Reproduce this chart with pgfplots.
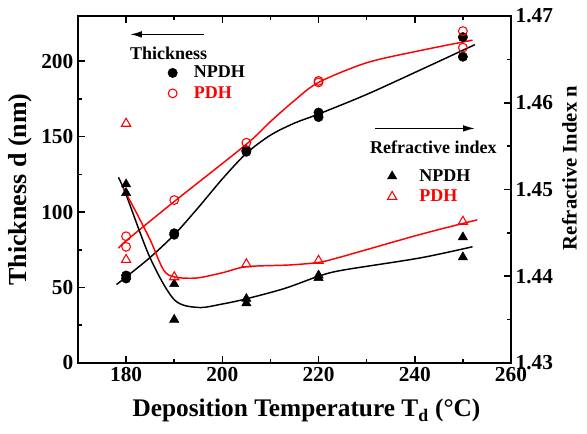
\documentclass[border=0pt]{standalone}
\usepackage{fontspec}
\setmainfont{Liberation Serif}
\usepackage{pgfplots}
\pgfplotsset{compat=1.18}
\usetikzlibrary{arrows.meta}
\definecolor{pdhred}{RGB}{255,0,0}

\pgfplotsset{
  common/.style={
    width=324.75pt, height=260.25pt, scale only axis,
    xmin=170, xmax=260,
    axis line style={line width=1.5pt},
    every tick/.style={black, line width=1.2pt},
    major tick length=5pt, minor tick length=3pt,
    tick label style={font=\fontsize{16}{18}\selectfont\bfseries},
    /pgf/number format/assume math mode=true,
    label style={font=\fontsize{19.5}{22}\selectfont\bfseries},
    legend style={draw=none, fill=none, font=\fontsize{13.5}{15}\selectfont\bfseries,
      legend cell align=left, row sep=1pt},
  },
  fitline/.style={smooth, line width=1.1pt, no marks},
}

\begin{document}
\begin{tikzpicture}
\begin{axis}[common, name=ax,
  ymin=0, ymax=230,
  xtick={180,200,...,260}, minor x tick num=1, xtick pos=both,
  ytick={0,50,...,200}, minor y tick num=1, ytick pos=left,
  xlabel={Deposition Temperature T\textsubscript{d} (°C)},
  xlabel style={font=\fontsize{19}{22}\selectfont\bfseries, xshift=9pt, yshift=-6pt},
  ylabel={Thickness d (nm)},
  legend style={at={(axis description cs:0.198,0.872)}, anchor=north west, column sep=10.5pt},
]
% NPDH thickness
\addplot[only marks, mark=*, mark size=3.5pt, black] coordinates {
  (180,58) (180,56) (190,85) (190,86) (205,140) (205,141)
  (220,163) (220,166) (250,216) (250,203)};
\addlegendentry{NPDH}
% PDH thickness
\addplot[only marks, mark=o, mark size=3.3pt, pdhred, mark options={line width=0.8pt}] coordinates {
  (180,84) (180,77) (190,108) (205,146) (220,187) (220,186) (250,220) (250,209)};
\addlegendentry{\textcolor{pdhred}{PDH}}
\addplot[fitline, black, forget plot] coordinates {
  (178,52) (180,57) (185,70) (190,85) (195,103) (200,122) (205,139)
  (210,151) (215,159) (220,165) (230,178) (241,194) (252.5,211)};
\addplot[fitline, pdhred, forget plot] coordinates {
  (178.4,76) (180,81) (190,107) (205,145) (210,160) (215,174) (220,186)
  (230,199) (241,207) (252,214)};
\draw[line width=1.2pt, -{Latex[length=9pt,width=5pt]}]
  (axis description cs:0.291,0.947) -- (axis description cs:0.120,0.947);
\node[anchor=west, inner sep=0pt, font=\fontsize{13.5}{15}\selectfont\bfseries]
  at (axis description cs:0.120,0.893) {Thickness};
\end{axis}

\begin{axis}[common,
  ymin=1.43, ymax=1.47,
  axis x line=none, axis y line*=right,
  ytick={1.43,1.44,...,1.47}, minor y tick num=1,
  yticklabel style={/pgf/number format/.cd, fixed, fixed zerofill, precision=2},
  ylabel={Refractive Index n},
  ylabel style={font=\fontsize{15.5}{18}\selectfont\bfseries, at={(ticklabel cs:0.562)}},
  legend style={at={(axis description cs:0.705,0.574)}, anchor=north west, column sep=15pt},
]
% NPDH refractive index
\addplot[only marks, mark=triangle*, mark size=4pt, black] coordinates {
  (180,1.4506) (180,1.4496) (190,1.4391) (190,1.4350) (205,1.4374) (205,1.4369)
  (220,1.4401) (220,1.4398) (250,1.4445) (250,1.4422)};
\addlegendentry{NPDH}
% PDH refractive index
\addplot[only marks, mark=triangle, mark size=4pt, pdhred, mark options={line width=0.8pt}] coordinates {
  (180,1.4576) (180,1.4419) (190,1.4399) (205,1.4414) (220,1.4418) (250,1.4463)};
\addlegendentry{\textcolor{pdhred}{PDH}}
\addplot[fitline, black, forget plot] coordinates {
  (178.4,1.4514) (180,1.4494) (185,1.4421) (190,1.4373) (195,1.4364) (200,1.4368)
  (205,1.4374) (213,1.4386) (220,1.4400) (225,1.4407) (241,1.4421) (252,1.4434)};
\addplot[fitline, pdhred, forget plot] coordinates {
  (179.4,1.4501) (181.5,1.4480) (185,1.4442) (187.8,1.4407) (190.2,1.4399) (194.7,1.4398)
  (200,1.4404) (205,1.4411) (214,1.4413) (220,1.4416) (224.5,1.4422) (241,1.4448) (253,1.4465)};
\draw[line width=1.2pt, -{Latex[length=9pt,width=5pt]}]
  (axis description cs:0.686,0.676) -- (axis description cs:0.917,0.676);
\node[anchor=west, inner sep=0pt, font=\fontsize{13.5}{15}\selectfont\bfseries]
  at (axis description cs:0.674,0.622) {Refractive index};
\end{axis}
\path ([shift={(-58.5pt,-53.25pt)}]ax.south west) rectangle ([shift={(381.75pt,272.25pt)}]ax.south west);
\end{tikzpicture}
\end{document}
